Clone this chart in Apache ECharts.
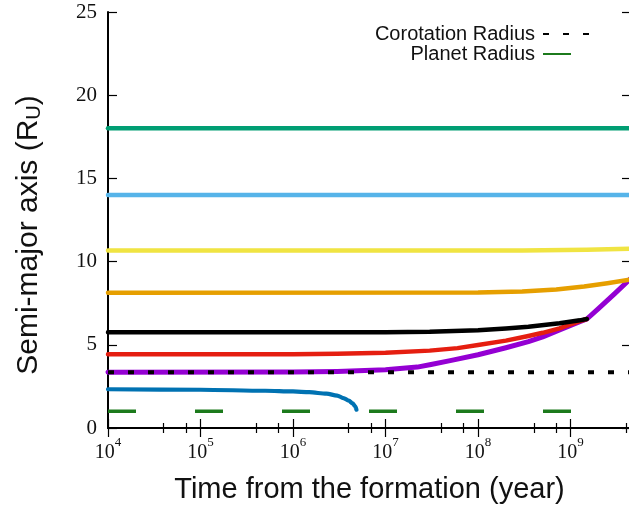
<!DOCTYPE html>
<html>
<head>
<meta charset="utf-8">
<script src="https://cdn.jsdelivr.net/npm/echarts@6/dist/echarts.min.js"></script>
<style>
  html, body { margin: 0; padding: 0; background: #fff; }
  #chart { width: 629px; height: 506px; }
</style>
</head>
<body>
<div id="chart"></div>
<script>
// Tidal orbital evolution of the satellites: semi-major axis (in planet radii)
// against time since formation, on a logarithmic time axis.

const xTickExponents = [4, 5, 6, 7, 8, 9];
const yTicks = [0, 5, 10, 15, 20, 25];
const timeMin = 1e4;
const timeMax = 4.5e9;

// satellite tracks: times (yr) and semi-major axes (R_U)
const violetT = [1e4, 1e6, 3e6, 1e7, 2.2e7, 3.1e7, 5e7, 1e8, 2e8, 3.5e8, 5e8, 7.6e8, 1e9, 1.26e9, 1.5e9, 2e9, 3e9, 4.5e9];
const violetA = [3.35, 3.36, 3.40, 3.50, 3.66, 3.82, 4.05, 4.40, 4.82, 5.19, 5.48, 5.89, 6.17, 6.39, 6.55, 7.18, 8.08, 9.00];

const greenT = [1e4, 4.5e9];
const greenA = [18.02, 18.02];

const skyT = [1e4, 4.5e9];
const skyA = [14.0, 14.0];

const orangeT = [1e4, 1e8, 3e8, 7e8, 1.4e9, 2.5e9, 4.5e9];
const orangeA = [8.13, 8.14, 8.20, 8.33, 8.50, 8.70, 8.93];

const yellowT = [1e4, 3e8, 1.5e9, 4.5e9];
const yellowA = [10.66, 10.67, 10.71, 10.77];

const blueT = [1e4, 1e5, 5e5, 1e6, 1.5e6, 2.3e6, 3e6, 3.5e6, 4e6, 4.4e6, 4.7e6, 4.85e6];
const blueA = [2.33, 2.30, 2.24, 2.20, 2.15, 2.06, 1.95, 1.80, 1.65, 1.48, 1.30, 1.10];

const redT = [1e4, 1e6, 3e6, 1e7, 3e7, 6e7, 1e8, 2e8, 3.5e8, 5e8, 7.6e8, 1e9, 1.26e9, 1.5e9];
const redA = [4.43, 4.43, 4.46, 4.52, 4.65, 4.80, 4.99, 5.25, 5.53, 5.72, 5.99, 6.22, 6.42, 6.55];

const blackT = [1e4, 1e7, 3e7, 1e8, 2e8, 3.5e8, 7.6e8, 1.26e9, 1.5e9];
const blackA = [5.75, 5.75, 5.78, 5.88, 5.98, 6.09, 6.29, 6.47, 6.55];

// reference levels
const corotationT = [1e4, 4.5e9];
const corotationA = [3.35, 3.35];
const planetT = [1e4, 4.5e9];
const planetA = [1.0, 1.0];

const pairs = (t, a) => t.map((v, i) => [v, a[i]]);

const serifFont = '"Liberation Serif", "Times New Roman", serif';
const sansFont = '"Liberation Sans", Arial, Helvetica, sans-serif';
const ink = '#111';

function track(name, t, a, color, width, extra) {
  return Object.assign({
    name: name,
    type: 'line',
    data: pairs(t, a),
    showSymbol: false,
    symbol: 'none',
    smooth: false,
    lineStyle: { color: color, width: width, cap: 'round', join: 'round' },
    itemStyle: { color: color },
    emphasis: { disabled: true },
    z: 2
  }, extra || {});
}

const xTickValues = xTickExponents.map(e => Math.pow(10, e));

function xAxisBase(pos) {
  return {
    type: 'log',
    logBase: 10,
    min: timeMin,
    max: timeMax,
    position: pos,
    axisLine: { show: true, lineStyle: { color: '#000', width: 2 } },
    axisTick: { show: true, inside: true, length: 9, customValues: xTickValues, lineStyle: { color: '#000', width: 1.2 } },
    minorTick: { show: true, splitNumber: 3, length: 5, lineStyle: { color: '#000', width: 1.2 } },
    splitLine: { show: false },
    minorSplitLine: { show: false }
  };
}

function yAxisBase(pos) {
  return {
    type: 'value',
    min: 0,
    max: 25,
    interval: 5,
    position: pos,
    axisLine: { show: true, onZero: false, lineStyle: { color: '#000', width: 2 } },
    axisTick: { show: true, inside: true, length: 9, customValues: yTicks, lineStyle: { color: '#000', width: 1.2 } },
    splitLine: { show: false }
  };
}

function legendFor(label, top) {
  return {
    data: [label],
    orient: 'vertical', align: 'right', right: 32, top: top,
    itemWidth: 48, itemHeight: 14, selectedMode: false,
    itemStyle: { opacity: 0 },
    textStyle: { fontSize: 20, fontFamily: sansFont, color: ink, padding: [0, 3, 0, 0] }
  };
}

const chart = echarts.init(document.getElementById('chart'), null, { renderer: 'canvas' });

chart.setOption({
  animation: false,
  backgroundColor: '#ffffff',
  grid: { left: 108, right: -2, top: 12, bottom: 78, outerBoundsMode: 'none' },
  legend: [
    legendFor('Corotation Radius', 19),
    legendFor('Planet Radius', 39)
  ],
  xAxis: [
    Object.assign(xAxisBase('bottom'), {
      axisLabel: {
        show: true,
        margin: 8,
        customValues: xTickValues,
        formatter: v => '{b|10}{s|' + Math.round(Math.log10(v)) + '}',
        rich: {
          b: { fontSize: 20, fontFamily: serifFont, color: ink, lineHeight: 27, verticalAlign: 'bottom' },
          s: { fontSize: 13, fontFamily: serifFont, color: ink, lineHeight: 13, verticalAlign: 'top' }
        }
      },
      name: 'Time from the formation (year)',
      nameLocation: 'middle',
      nameGap: 47,
      nameTextStyle: { fontSize: 29, fontFamily: sansFont, color: ink }
    }),
    Object.assign(xAxisBase('top'), { axisLabel: { show: false } })
  ],
  yAxis: [
    Object.assign(yAxisBase('left'), {
      axisLabel: {
        show: true, margin: 11, customValues: yTicks,
        fontSize: 21, fontFamily: serifFont, color: ink
      },
      name: '{m|Semi-major axis (R}{u|U}{m|)}',
      nameLocation: 'middle',
      nameRotate: 90,
      nameGap: 64,
      nameTextStyle: {
        padding: [0, 30, 0, 0],
        rich: {
          m: { fontSize: 30, fontFamily: sansFont, color: ink, lineHeight: 30, verticalAlign: 'top' },
          u: { fontSize: 20, fontFamily: sansFont, color: ink, lineHeight: 20, verticalAlign: 'bottom' }
        },
        lineHeight: 40
      }
    }),
    Object.assign(yAxisBase('right'), { axisLabel: { show: false } })
  ],
  series: [
    track('a1', violetT, violetA, '#9400D3', 5),
    track('a2', greenT, greenA, '#009E73', 4.5),
    track('a3', skyT, skyA, '#56B4E9', 4.5),
    track('a4', orangeT, orangeA, '#E69F00', 4.5),
    track('a5', yellowT, yellowA, '#F0E442', 4.5),
    track('a6', blueT, blueA, '#0072B2', 4.2, { smooth: 0.3, smoothMonotone: 'x' }),
    track('a7', redT, redA, '#E51E10', 4.5),
    track('a8', blackT, blackA, '#000000', 4.5),
    track('Corotation Radius', corotationT, corotationA, '#000000', 4,
      { lineStyle: { color: '#000', width: 4, type: [6, 14], cap: 'butt' } }),
    track('Planet Radius', planetT, planetA, '#1c7a1c', 3.5,
      { lineStyle: { color: '#1c7a1c', width: 3.5, type: [28, 59], cap: 'butt' } })
  ]
});
</script>
</body>
</html>
